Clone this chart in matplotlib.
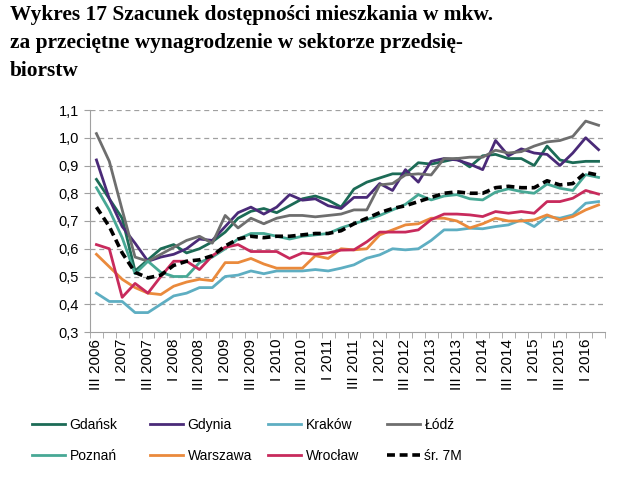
import matplotlib
matplotlib.use("Agg")
import matplotlib.pyplot as plt
import numpy as np

# quarterly data, III 2006 .. II 2016
quarters = []
for year in range(2006, 2017):
    for q in ["I", "II", "III", "IV"]:
        quarters.append(f"{q} {year}")
quarters = quarters[2:42]

gdansk = [0.85, 0.78, 0.71, 0.52, 0.56, 0.60, 0.615, 0.585, 0.60, 0.625,
          0.66, 0.71, 0.735, 0.745, 0.73, 0.755, 0.78, 0.79, 0.775, 0.75,
          0.815, 0.84, 0.855, 0.87, 0.87, 0.91, 0.905, 0.915, 0.925, 0.895,
          0.935, 0.94, 0.925, 0.925, 0.90, 0.97, 0.92, 0.91, 0.915, 0.915]
gdynia = [0.92, 0.78, 0.68, 0.62, 0.555, 0.57, 0.58, 0.60, 0.635, 0.63,
          0.68, 0.73, 0.75, 0.725, 0.75, 0.795, 0.775, 0.78, 0.755, 0.745,
          0.785, 0.785, 0.835, 0.81, 0.885, 0.84, 0.915, 0.925, 0.92, 0.905,
          0.885, 0.99, 0.935, 0.96, 0.945, 0.94, 0.90, 0.945, 1.0, 0.957]
krakow = [0.44, 0.41, 0.41, 0.37, 0.37, 0.40, 0.43, 0.44, 0.46, 0.46,
          0.50, 0.505, 0.52, 0.51, 0.52, 0.52, 0.52, 0.525, 0.52, 0.53,
          0.542, 0.566, 0.578, 0.60, 0.596, 0.60, 0.63, 0.668, 0.668, 0.674,
          0.672, 0.68, 0.686, 0.704, 0.68, 0.716, 0.71, 0.722, 0.764, 0.77]
lodz = [1.015, 0.915, 0.74, 0.57, 0.555, 0.58, 0.605, 0.63, 0.645, 0.62,
        0.72, 0.675, 0.71, 0.69, 0.71, 0.72, 0.72, 0.715, 0.72, 0.725,
        0.74, 0.74, 0.83, 0.835, 0.866, 0.87, 0.866, 0.925, 0.925, 0.93,
        0.93, 0.955, 0.945, 0.95, 0.97, 0.985, 0.99, 1.005, 1.06, 1.045]
poznan = [0.82, 0.74, 0.64, 0.51, 0.555, 0.515, 0.50, 0.50, 0.55, 0.57,
          0.60, 0.635, 0.655, 0.655, 0.645, 0.635, 0.645, 0.65, 0.655, 0.675,
          0.69, 0.705, 0.72, 0.74, 0.76, 0.795, 0.776, 0.79, 0.795, 0.78,
          0.776, 0.804, 0.816, 0.806, 0.80, 0.833, 0.818, 0.81, 0.867, 0.857]
warszawa = [0.58, 0.535, 0.49, 0.46, 0.44, 0.435, 0.465, 0.48, 0.49, 0.485,
            0.55, 0.55, 0.565, 0.545, 0.53, 0.53, 0.53, 0.575, 0.565, 0.60,
            0.596, 0.60, 0.65, 0.668, 0.686, 0.69, 0.71, 0.71, 0.70, 0.675,
            0.69, 0.71, 0.70, 0.70, 0.704, 0.722, 0.704, 0.716, 0.74, 0.758]
wroclaw = [0.615, 0.60, 0.425, 0.475, 0.44, 0.50, 0.555, 0.555, 0.525, 0.575,
           0.605, 0.615, 0.59, 0.59, 0.59, 0.565, 0.585, 0.58, 0.585, 0.595,
           0.596, 0.625, 0.66, 0.66, 0.66, 0.668, 0.705, 0.725, 0.725, 0.722,
           0.716, 0.734, 0.728, 0.734, 0.728, 0.77, 0.77, 0.782, 0.81, 0.797]
avg_7m = [0.75, 0.68, 0.585, 0.515, 0.495, 0.505, 0.54, 0.555, 0.56, 0.575,
          0.61, 0.635, 0.645, 0.64, 0.645, 0.645, 0.65, 0.655, 0.655, 0.665,
          0.69, 0.71, 0.73, 0.745, 0.755, 0.77, 0.785, 0.80, 0.805, 0.80,
          0.80, 0.82, 0.825, 0.82, 0.82, 0.845, 0.83, 0.835, 0.875, 0.865]

series = [
    ("Gdańsk", gdansk, "#1c6b56", "-"),
    ("Gdynia", gdynia, "#4a2a78", "-"),
    ("Kraków", krakow, "#5eaec2", "-"),
    ("Łódź", lodz, "#6e6e6e", "-"),
    ("Poznań", poznan, "#47a895", "-"),
    ("Warszawa", warszawa, "#ea8a3c", "-"),
    ("Wrocław", wroclaw, "#c82a5c", "-"),
    ("śr. 7M", avg_7m, "#000000", "--"),
]

plt.rcParams["font.family"] = ["Liberation Sans", "DejaVu Sans"]

fig = plt.figure(figsize=(6.4, 4.8), dpi=100)
ax = fig.add_axes([90 / 640, 1 - 332 / 480, 515 / 640, 222 / 480])

x = np.arange(len(quarters))
handles = {}
for name, vals, color, ls in series:
    if ls == "--":
        h, = ax.plot(x, vals, color=color, linestyle=(0, (2.2, 1.3)), linewidth=2.6, zorder=5)
    else:
        h, = ax.plot(x, vals, color=color, linewidth=2.0)
    handles[name] = h

ax.set_xlim(-0.5, len(quarters) - 0.5)
ax.set_ylim(0.3, 1.1)
yt = np.round(np.arange(0.3, 1.101, 0.1), 1)
ax.set_yticks(yt)
ax.set_yticklabels([f"{v:.1f}".replace(".", ",") for v in yt], fontsize=10.5)
for v in yt[1:]:
    ax.axhline(v, color="#a0a0a0", linestyle=(0, (4, 3)), linewidth=0.9, zorder=0)

ax.set_xticks(x[::2])
ax.set_xticklabels(quarters[::2], rotation=90, fontsize=11)
ax.set_xticks(np.arange(-0.5, len(quarters), 1), minor=True)
ax.tick_params(axis="x", which="major", length=0, pad=5)
ax.tick_params(axis="x", which="minor", length=4, color="#a0a0a0", direction="out")
ax.tick_params(axis="y", length=4, color="#a0a0a0", pad=4)

for s in ["top", "right"]:
    ax.spines[s].set_visible(False)
for s in ["left", "bottom"]:
    ax.spines[s].set_color("#a0a0a0")

fig.text(10 / 640, 1 - 5 / 480,
         "Wykres 17 Szacunek dostępności mieszkania w mkw.\n"
         "za przeciętne wynagrodzenie w sektorze przedsię-\n"
         "biorstw",
         fontsize=15.4, fontweight="bold", family="Liberation Serif",
         va="top", ha="left", linespacing=1.55)

# legend: 4 columns, 2 rows
columns = [["Gdańsk", "Poznań"], ["Gdynia", "Warszawa"],
           ["Kraków", "Wrocław"], ["Łódź", "śr. 7M"]]
col_x = [32, 150, 268, 387]
for cx, names in zip(col_x, columns):
    leg = fig.legend([handles[n] for n in names], names,
                     loc="upper left", bbox_to_anchor=(cx / 640, 1 - 418 / 480),
                     frameon=False, fontsize=10, handlelength=2.4,
                     handletextpad=0.3, borderpad=0, borderaxespad=0,
                     labelspacing=1.2)

fig.savefig("out.png", dpi=100)
